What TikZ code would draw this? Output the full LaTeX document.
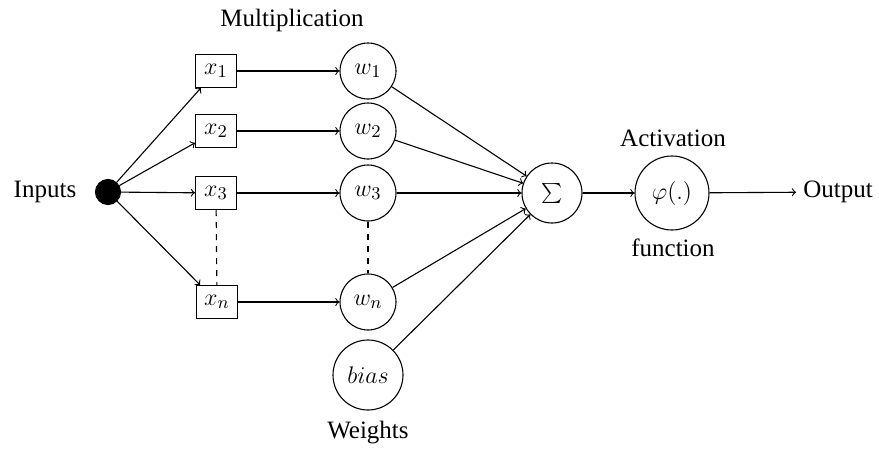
\documentclass[tikz,border=0pt]{standalone}
\usepackage{fontspec}
\setmainfont{Liberation Serif}
\begin{document}
\begin{tikzpicture}[x=0.5pt,y=-0.5pt, line width=0.55pt,
  font=\fontsize{12.5}{15}\selectfont,
  inbox/.style={draw, minimum width=20.5pt, minimum height=16.5pt, inner sep=1pt},
  wcirc/.style={draw, circle, minimum size=28pt, inner sep=0pt},
  conn/.style={->, >=to},
  label/.style={inner sep=0pt}]
\useasboundingbox (0,0) rectangle (879,450);

% input source
\node[label] (inputs) at (45,192) {Inputs};
\node[draw, fill, circle, minimum size=12.5pt, inner sep=0pt] (dot) at (108,192) {};

% inputs x_i
\node[label] (mult) at (292,20) {Multiplication};
\node[inbox] (x1) at (216,71) {$x_1$};
\node[inbox] (x2) at (216,131) {$x_2$};
\node[inbox] (x3) at (216,193) {$x_3$};
\node[inbox] (xn) at (217,302) {$x_n$};

% weights
\node[wcirc] (w1) at (368,71) {$w_1$};
\node[wcirc] (w2) at (368,131) {$w_2$};
\node[wcirc] (w3) at (368,193) {$w_3$};
\node[wcirc] (wn) at (368,302) {$w_n$};
\node[wcirc, minimum size=35pt] (bias) at (368,375) {$bias$};
\node[label] (weights) at (368,433) {Weights};

% summation and activation
\node[wcirc, minimum size=30pt] (sum) at (552,193) {$\sum$};
\node[wcirc, minimum size=37pt] (phi) at (672,193) {$\varphi(.)$};
\node[label] (act) at (673,138) {Activation};
\node[label] (func) at (673,248) {function};
\node (out) at (838,192) {Output};

% connectors
\foreach \n in {x1,x2,x3,xn} \draw[conn] (dot) -- (\n);
\draw[conn] (x1) -- (w1);
\draw[conn] (x2) -- (w2);
\draw[conn] (x3) -- (w3);
\draw[conn] (xn) -- (wn);
\draw[dashed] (x3) -- (xn);
\draw[dashed] (w3) -- (wn);
\foreach \n in {w1,w2,w3,wn,bias} \draw[conn] (\n) -- (sum);
\draw[conn] (sum) -- (phi);
\draw[conn] (phi) -- (out);
\end{tikzpicture}
\end{document}
